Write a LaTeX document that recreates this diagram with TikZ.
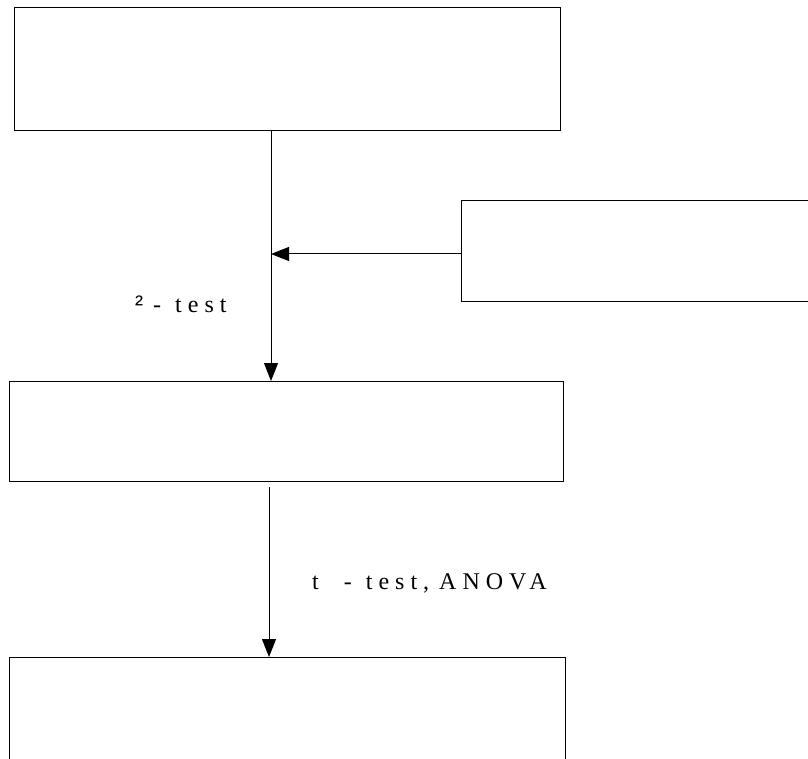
\documentclass[tikz,border=0pt]{standalone}
\usepackage{fontspec}
\setmainfont{Liberation Serif}
\newfontfamily\sansbold{Liberation Sans}[BoldFont=*]
\newfontfamily\spaced{Liberation Serif}[LetterSpace=25]
\usetikzlibrary{arrows.meta}

\tikzset{
    box/.style={draw, line width=1pt, inner sep=0pt, outer sep=0pt, fill=white},
    flow/.style={line width=1pt, -{Triangle[length=18pt, width=14pt]}},
    lbl/.style={anchor=base west, inner sep=0pt, font=\spaced\fontsize{24}{28}\selectfont}
}

\begin{document}
\begin{tikzpicture}[x=1pt, y=-1pt]
    \useasboundingbox (0,0) rectangle (808,759);
    \clip (0,0) rectangle (808,759);

    % Boxes
    \node[box, minimum width=546pt, minimum height=123pt] (top) at (287,69.5) {};
    \node[box, minimum width=369pt, minimum height=100pt] (side) at (645.5,251) {};
    \node[box, minimum width=554pt, minimum height=100pt] (mid) at (286,431) {};
    \node[box, minimum width=556pt, minimum height=133pt] (bottom) at (287,723.5) {};

    % Connectors
    \coordinate (join) at (271,254);
    \coordinate (start) at (269,487);
    \draw[flow] (top.south -| join) -- (join |- mid.north);
    \draw[flow] (side.west |- join) -- (join);
    \draw[flow] (start) -- (start |- bottom.north);

    % Labels
    \node[lbl] (chi) at (135,312) {{\sansbold\bfseries ²}\kern 10pt-\kern 14pt test};
    \node[lbl] (ttest) at (312,589) {t\kern 25pt-\kern 14pt test,\kern 10pt ANOVA};

\end{tikzpicture}
\end{document}
